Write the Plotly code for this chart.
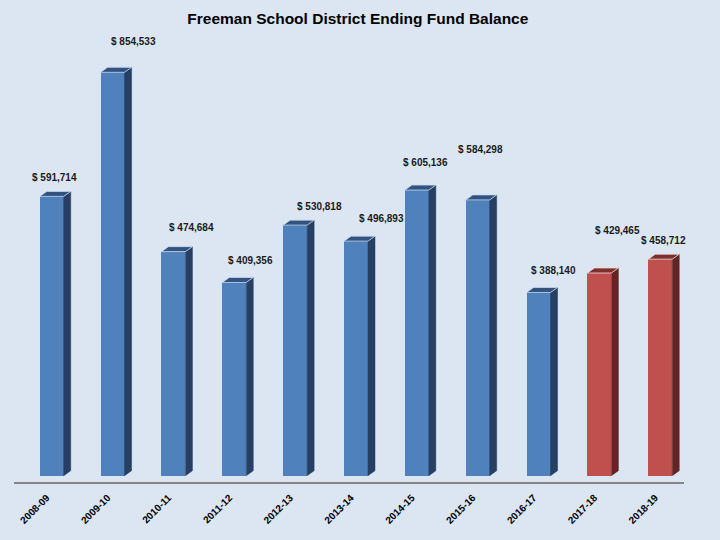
import plotly.graph_objects as go

# ---- data ----
categories = ["2008-09", "2009-10", "2010-11", "2011-12", "2012-13", "2013-14",
              "2014-15", "2015-16", "2016-17", "2017-18", "2018-19"]
fund_balance = [591714, 854533, 474684, 409356, 530818, 496893,
                605136, 584298, 388140, 429465, 458712]
projected_years = ["2017-18", "2018-19"]

# ---- layout constants (pixels) ----
W, H = 720, 540
M_L, M_R, M_T, M_B = 14, 36, 40, 58
Y_RANGE = [-13350, 923000]
X_RANGE = [-0.62, 10.39]
BAR_W = 0.394
DEPTH_PX_X, DEPTH_PX_Y = 7, 5

# label offsets (pixels) relative to each bar's front-top centre
label_dx = [3, 21, 18, 16, 24, 25, 9, 3, 15, 18, 3]
label_dy = [19, 31, 24, 22, 19, 23, 28, 50, 22, 42, 19]

plot_w = W - M_L - M_R
plot_h = H - M_T - M_B
px_per_x = plot_w / (X_RANGE[1] - X_RANGE[0])
px_per_y = plot_h / (Y_RANGE[1] - Y_RANGE[0])
dx = DEPTH_PX_X / px_per_x
dy = DEPTH_PX_Y / px_per_y

BG = "#DCE6F2"
BLUE = dict(front="#4F81BD", side="#263F63", top="#34527E", edge="#C6D9F1")
RED = dict(front="#C0504D", side="#632523", top="#7B302E", edge="#F2DCDB")

xs = list(range(len(categories)))
pal = [RED if c in projected_years else BLUE for c in categories]

fig = go.Figure()

fig.add_trace(go.Bar(
    x=xs, y=fund_balance, width=BAR_W,
    marker=dict(color=[p["front"] for p in pal], line=dict(width=0)),
    hoverinfo="skip", showlegend=False,
))

for scheme in (BLUE, RED):
    sx, sy, tx, ty = [], [], [], []
    for i, v in enumerate(fund_balance):
        if pal[i] is not scheme:
            continue
        xl, xr = i - BAR_W / 2, i + BAR_W / 2
        # side face
        sx += [xr, xr + dx, xr + dx, xr, xr, None]
        sy += [0, dy, v + dy, v, 0, None]
        # top face
        tx += [xl, xr, xr + dx, xl + dx, xl, None]
        ty += [v, v, v + dy, v + dy, v, None]
    if not sx:
        continue
    fig.add_trace(go.Scatter(x=sx, y=sy, mode="lines", fill="toself",
                             fillcolor=scheme["side"],
                             line=dict(color=scheme["side"], width=0.5),
                             hoverinfo="skip", showlegend=False))
    fig.add_trace(go.Scatter(x=tx, y=ty, mode="lines", fill="toself",
                             fillcolor=scheme["top"],
                             line=dict(color=scheme["edge"], width=0.8),
                             hoverinfo="skip", showlegend=False))

FONT = "Liberation Sans Narrow, Arial Narrow, Liberation Sans, Arial, sans-serif"

for i, v in enumerate(fund_balance):
    fig.add_annotation(x=i, y=v, text=f"<b>$ {v:,}</b>", showarrow=False,
                       xshift=label_dx[i], yshift=label_dy[i],
                       xanchor="center", yanchor="middle",
                       font=dict(family=FONT, size=10, color="#1a1a1a"))

fig.update_layout(
    width=W, height=H,
    margin=dict(l=M_L, r=M_R, t=M_T, b=M_B, autoexpand=False),
    paper_bgcolor=BG, plot_bgcolor=BG,
    title=dict(text="<b>Freeman School District Ending Fund Balance</b>",
               x=0.497, xanchor="center", y=0.965, yanchor="middle",
               font=dict(family=FONT, size=15.5, color="#000000")),
    xaxis=dict(range=X_RANGE, tickvals=xs, ticktext=[f"<b>{c}</b>" for c in categories],
               tickangle=-45, showgrid=False, zeroline=False, automargin=False,
               showline=True, linecolor="#868686", linewidth=2,
               ticks="", ticklabelshift=-5, ticklabelstandoff=4,
               tickfont=dict(family=FONT, size=10, color="#000000"),
               fixedrange=True),
    yaxis=dict(range=Y_RANGE, visible=False, showgrid=False, zeroline=False,
               automargin=False, fixedrange=True),
    bargap=0, hovermode=False, showlegend=False,
)

fig.write_html(
    "out.html",
    config={"displayModeBar": False, "staticPlot": True},
    post_script=f"document.body.style.margin='0';document.body.style.background='{BG}';",
)
